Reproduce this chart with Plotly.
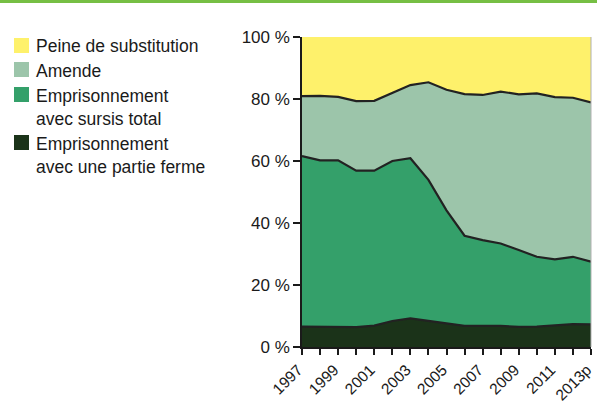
import plotly.graph_objects as go

years = list(range(1997, 2014))
year_labels = ["1997", "", "1999", "", "2001", "", "2003", "", "2005", "", "2007", "", "2009", "", "2011", "", "2013p"]

# shares in % (stacked bottom -> top)
ferme = [6.6, 6.5, 6.6, 6.4, 6.9, 8.4, 9.2, 8.4, 7.8, 6.8, 6.8, 6.8, 6.5, 6.6, 7.0, 7.4, 7.3]
sursis = [55.0, 53.7, 53.6, 50.5, 50.0, 51.6, 51.7, 45.5, 36.3, 29.1, 27.7, 26.6, 24.8, 22.5, 21.3, 21.7, 20.2]
amende = [19.3, 20.8, 20.5, 22.4, 22.5, 22.0, 23.6, 31.5, 38.9, 45.7, 46.8, 49.0, 50.2, 52.7, 52.3, 51.3, 51.4]
substitution = [19.1, 19.0, 19.3, 20.7, 20.6, 18.0, 15.5, 14.6, 17.0, 18.4, 18.7, 17.6, 18.5, 18.2, 19.4, 19.6, 21.1]

series_names = ["Emprisonnement<br>avec une partie ferme", "Emprisonnement<br>avec sursis total", "Amende", "Peine de substitution"]
series_values = [ferme, sursis, amende, substitution]
series_colors = ["#1B3319", "#34A06A", "#9CC5AA", "#FEF16B"]
line_widths = [2.2, 2.2, 2.2, 0]

y_ticks = [0, 20, 40, 60, 80, 100]
y_ticktext = ["0 %", "20 %", "40 %", "60 %", "80 %", "100 %"]

W, H = 597, 418
L, R, T, B = 302, 591, 37, 347

fig = go.Figure()
for name, vals, col, lw in zip(series_names, series_values, series_colors, line_widths):
    fig.add_trace(go.Scatter(
        x=years, y=vals, name=name, mode="lines", stackgroup="one",
        fillcolor=col, line=dict(color="#222222", width=lw), showlegend=False,
        hoverinfo="x+y+name",
    ))

def px_x(p):
    return (p - L) / (R - L)

def px_y(p):
    return (B - p) / (B - T)

shapes = []
annotations = []
# top green band
shapes.append(dict(type="rect", xref="paper", yref="paper", x0=px_x(0), x1=px_x(W), y0=px_y(0), y1=px_y(3),
                   fillcolor="#76BF44", line=dict(width=0), layer="above"))
# right border
shapes.append(dict(type="line", xref="paper", yref="paper", x0=1, x1=1, y0=0, y1=1,
                   line=dict(color="#B0B0B0", width=1)))

# legend (manual)
legend_items = [
    ("Peine de substitution", "#FEF16B", 38, 46),
    ("Amende", "#9CC5AA", 62, 71),
    ("Emprisonnement<br>avec sursis total", "#34A06A", 87, 107),
    ("Emprisonnement<br>avec une partie ferme", "#1B3319", 135, 155),
]
for text, col, sq_top, text_mid in legend_items:
    shapes.append(dict(type="rect", xref="paper", yref="paper",
                       x0=px_x(14), x1=px_x(29), y0=px_y(sq_top + 15), y1=px_y(sq_top),
                       fillcolor=col, line=dict(width=0)))
    annotations.append(dict(xref="paper", yref="paper", x=px_x(34), y=px_y(text_mid),
                            text=text, showarrow=False, xanchor="left", yanchor="middle", align="left",
                            font=dict(family="Liberation Sans, Arial, sans-serif", size=17.5, color="#1a1a1a")))

fig.update_layout(
    width=W, height=H,
    margin=dict(l=L, r=W - R, t=T, b=H - B, autoexpand=False),
    paper_bgcolor="white", plot_bgcolor="white",
    font=dict(family="Liberation Sans, Arial, sans-serif", color="#1a1a1a"),
    showlegend=False,
    shapes=shapes,
    annotations=annotations,
    xaxis=dict(
        range=[1997, 2013], tickmode="array", tickvals=years, ticktext=year_labels,
        tickangle=-45, ticks="outside", ticklen=6, tickcolor="#1a1a1a", tickwidth=1.5,
        showline=True, linecolor="#1a1a1a", linewidth=1.5, showgrid=False, zeroline=False,
        tickfont=dict(size=15.5, color="#1a1a1a"), ticklabeloverflow="allow", automargin=False,
        ticklabelshift=-4,
    ),
    yaxis=dict(
        range=[0, 100], tickmode="array", tickvals=y_ticks, ticktext=y_ticktext,
        ticks="outside", ticklen=7, tickcolor="#1a1a1a", tickwidth=1.5,
        showline=True, linecolor="#1a1a1a", linewidth=1.5, showgrid=False, zeroline=False,
        tickfont=dict(size=17, color="#1a1a1a"), automargin=False,
    ),
)

fig.write_html("out.html", config={"displayModeBar": False},
               post_script="document.body.style.margin='0';document.body.style.overflow='hidden';")
